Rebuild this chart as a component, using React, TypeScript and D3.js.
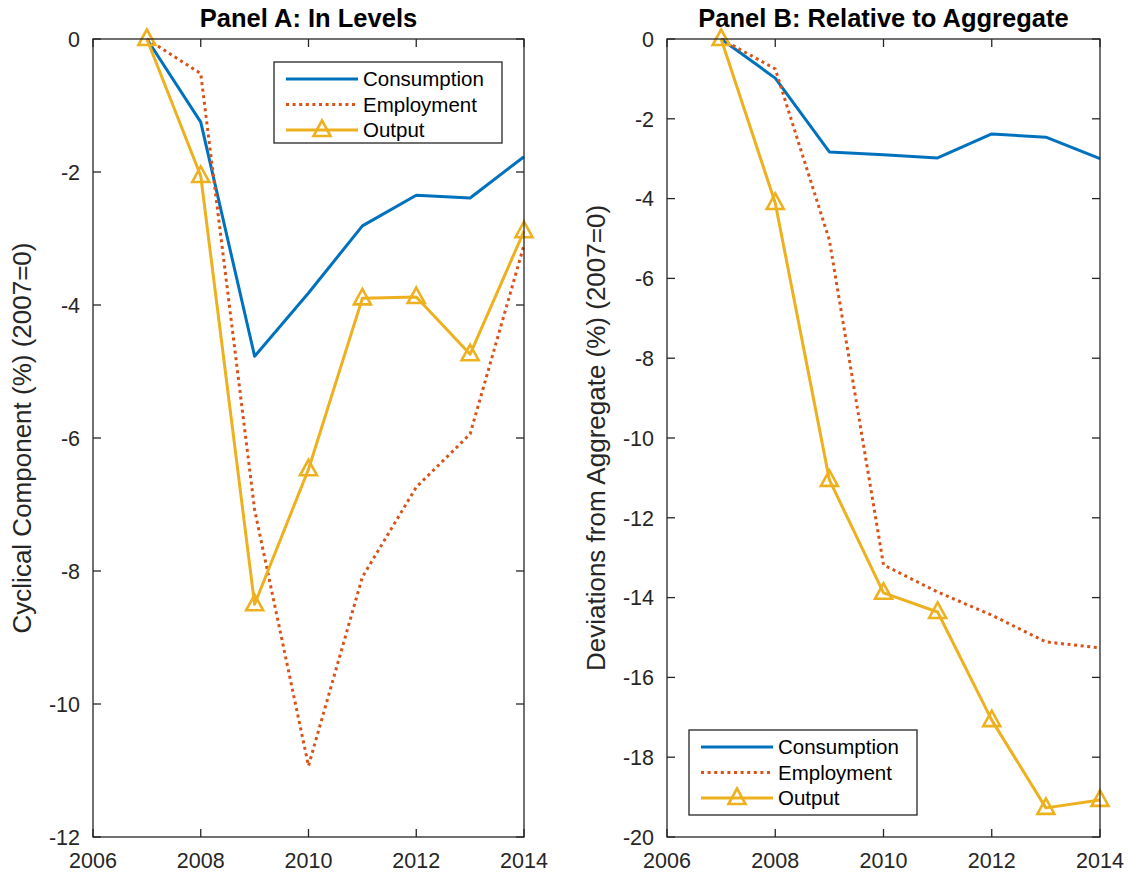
import React from "react";
import * as d3 from "d3";

const years = [2007, 2008, 2009, 2010, 2011, 2012, 2013, 2014];

const levelsConsumption = [0, -1.25, -4.77, -3.82, -2.81, -2.35, -2.39, -1.77];
const levelsEmployment = [0, -0.52, -7.08, -10.93, -8.09, -6.74, -5.94, -3.1];
const levelsOutput = [0, -2.06, -8.5, -6.47, -3.9, -3.88, -4.74, -2.89];

const relConsumption = [0, -0.98, -2.83, -2.9, -2.98, -2.38, -2.46, -3.0];
const relEmployment = [0, -0.75, -5.04, -13.18, -13.86, -14.44, -15.11, -15.26];
const relOutput = [0, -4.11, -11.05, -13.88, -14.36, -17.07, -19.27, -19.07];

const xTicks = [2006, 2008, 2010, 2012, 2014];
const yTicksA = [0, -2, -4, -6, -8, -10, -12];
const yTicksB = [0, -2, -4, -6, -8, -10, -12, -14, -16, -18, -20];

const seriesNames = ["Consumption", "Employment", "Output"];

const BLUE = "#0072BD";
const ORANGE = "#D95319";
const YELLOW = "#EDB120";
const AXIS = "#262626";
const FONT = "'Liberation Sans', Arial, Helvetica, sans-serif";

type PanelProps = {
  left: number;
  right: number;
  top: number;
  bottom: number;
  yMin: number;
  yTicks: number[];
  title: string;
  ylabel: string;
  cons: number[];
  emp: number[];
  out: number[];
  legend: { x: number; y: number; w: number; h: number };
};

function Triangle({ x, y }: { x: number; y: number }) {
  const pts = [
    [x, y - 9.5],
    [x + 8.5, y + 6],
    [x - 8.5, y + 6],
  ]
    .map((p) => p.join(","))
    .join(" ");
  return <polygon points={pts} fill="none" stroke={YELLOW} strokeWidth={2.6} strokeLinejoin="miter" />;
}

function Panel(p: PanelProps) {
  const x = d3.scaleLinear().domain([2006, 2014]).range([p.left, p.right]);
  const y = d3.scaleLinear().domain([p.yMin, 0]).range([p.bottom, p.top]);
  const line = d3
    .line<number>()
    .x((_, i) => x(years[i]))
    .y((d) => y(d));
  const tl = 8;
  const lg = p.legend;
  const rowY = [lg.y + 17, lg.y + 42.5, lg.y + 68];
  const sx0 = lg.x + 12;
  const sx1 = lg.x + 84;
  return (
    <g>
      <path d={line(p.cons) || ""} fill="none" stroke={BLUE} strokeWidth={3} strokeLinejoin="round" />
      <path
        d={line(p.emp) || ""}
        fill="none"
        stroke={ORANGE}
        strokeWidth={3}
        strokeDasharray="3,3.6"
        strokeLinecap="butt"
      />
      <path d={line(p.out) || ""} fill="none" stroke={YELLOW} strokeWidth={3} strokeLinejoin="round" />
      {p.out.map((d, i) => (
        <Triangle key={i} x={x(years[i])} y={y(d)} />
      ))}
      <rect
        x={p.left}
        y={p.top}
        width={p.right - p.left}
        height={p.bottom - p.top}
        fill="none"
        stroke={AXIS}
        strokeWidth={1.3}
      />
      {xTicks.map((t) => (
        <g key={"x" + t}>
          <line x1={x(t)} x2={x(t)} y1={p.bottom} y2={p.bottom - tl} stroke={AXIS} strokeWidth={1.3} />
          <line x1={x(t)} x2={x(t)} y1={p.top} y2={p.top + tl} stroke={AXIS} strokeWidth={1.3} />
          <text
            x={x(t)}
            y={p.bottom + 31}
            textAnchor="middle"
            fontFamily={FONT}
            fontSize={21.5}
            fill={AXIS}
          >
            {t}
          </text>
        </g>
      ))}
      {p.yTicks.map((t) => (
        <g key={"y" + t}>
          <line x1={p.left} x2={p.left + tl} y1={y(t)} y2={y(t)} stroke={AXIS} strokeWidth={1.3} />
          <line x1={p.right} x2={p.right - tl} y1={y(t)} y2={y(t)} stroke={AXIS} strokeWidth={1.3} />
          <text
            x={p.left - 13}
            y={y(t)}
            dy="0.36em"
            textAnchor="end"
            fontFamily={FONT}
            fontSize={21.5}
            fill={AXIS}
          >
            {t === 0 ? "0" : "-" + Math.abs(t)}
          </text>
        </g>
      ))}
      <text
        x={(p.left + p.right) / 2}
        y={p.top - 12}
        textAnchor="middle"
        fontFamily={FONT}
        fontSize={25.5}
        fontWeight="bold"
        fill="#000"
      >
        {p.title}
      </text>
      <text
        transform={`translate(${p.left - 62},${(p.top + p.bottom) / 2}) rotate(-90)`}
        textAnchor="middle"
        fontFamily={FONT}
        fontSize={26}
        fill={AXIS}
      >
        {p.ylabel}
      </text>
      <rect x={lg.x} y={lg.y} width={lg.w} height={lg.h} fill="#fff" stroke={AXIS} strokeWidth={1.3} />
      <line x1={sx0} x2={sx1} y1={rowY[0]} y2={rowY[0]} stroke={BLUE} strokeWidth={3} />
      <line
        x1={sx0}
        x2={sx1}
        y1={rowY[1]}
        y2={rowY[1]}
        stroke={ORANGE}
        strokeWidth={3}
        strokeDasharray="3,3.6"
      />
      <line x1={sx0} x2={sx1} y1={rowY[2]} y2={rowY[2]} stroke={YELLOW} strokeWidth={3} />
      <Triangle x={(sx0 + sx1) / 2} y={rowY[2]} />
      {seriesNames.map((n, i) => (
        <text
          key={n}
          x={sx1 + 5}
          y={rowY[i]}
          dy="0.36em"
          fontFamily={FONT}
          fontSize={20.5}
          fill="#000"
        >
          {n}
        </text>
      ))}
    </g>
  );
}

export default function App() {
  return (
    <svg
      width={1128}
      height={875}
      style={{ position: "absolute", left: 0, top: 0, background: "#fff" }}
      xmlns="http://www.w3.org/2000/svg"
    >
      <rect x={0} y={0} width={1128} height={875} fill="#fff" />
      <Panel
        left={93}
        right={524}
        top={39}
        bottom={837}
        yMin={-12}
        yTicks={yTicksA}
        title="Panel A: In Levels"
        ylabel="Cyclical Component (%) (2007=0)"
        cons={levelsConsumption}
        emp={levelsEmployment}
        out={levelsOutput}
        legend={{ x: 274, y: 62, w: 228, h: 81 }}
      />
      <Panel
        left={667}
        right={1100}
        top={39}
        bottom={837}
        yMin={-20}
        yTicks={yTicksB}
        title="Panel B: Relative to Aggregate"
        ylabel="Deviations from Aggregate (%) (2007=0)"
        cons={relConsumption}
        emp={relEmployment}
        out={relOutput}
        legend={{ x: 689, y: 730, w: 228, h: 85 }}
      />
    </svg>
  );
}
